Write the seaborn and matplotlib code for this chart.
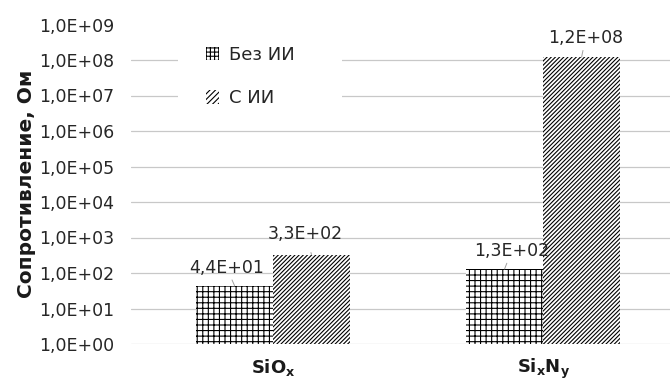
import matplotlib
matplotlib.use("Agg")
import matplotlib.pyplot as plt
from matplotlib.patches import Patch, Rectangle
import seaborn as sns
import pandas as pd

# Resistance of the films with and without ion implantation
categories = ["SiOx", "SixNy"]
category_labels = [r"$\mathbf{SiO}_\mathbf{x}$", r"$\mathbf{Si}_\mathbf{x}\mathbf{N}_\mathbf{y}$"]
series = ["Без ИИ", "С ИИ"]
values_no_ii = [44, 130]
values_ii = [330, 1.2e8]
ytick_values = [1e0, 1e1, 1e2, 1e3, 1e4, 1e5, 1e6, 1e7, 1e8, 1e9]

df = pd.DataFrame({
    "category": categories * 2,
    "series": [series[0]] * 2 + [series[1]] * 2,
    "value": values_no_ii + values_ii,
})

sns.set_theme(style="white")
plt.rcParams["font.family"] = ["DejaVu Sans"]
plt.rcParams["hatch.linewidth"] = 0.8

fig = plt.figure(figsize=(6.7, 3.83), dpi=100)
ax = fig.add_axes([131 / 670, 39 / 383, 539 / 670, 319.5 / 383])
ax.set_yscale("log")

sns.barplot(data=df, x="category", y="value", hue="series", order=categories,
            hue_order=series, width=0.57, palette=["white", "white"],
            edgecolor="black", linewidth=0, ax=ax, legend=False)

hatches = ["+++", "////////"]
for container, hatch in zip(ax.containers, hatches):
    for bar in container:
        bar.set_hatch(hatch)
        bar.set_facecolor("white")
        bar.set_edgecolor("black")
        bar.set_linewidth(0)

ax.set_ylim(1, 1e9)
ax.set_xlim(-0.526, 1.47)
ax.set_yticks(ytick_values)
ax.set_yticklabels([f"{v:.1E}".replace(".", ",") for v in ytick_values])
ax.yaxis.set_minor_locator(matplotlib.ticker.NullLocator())
ax.set_xticks(range(len(categories)))
ax.set_xticklabels(category_labels, fontsize=13, color="#1a1a1a")
ax.tick_params(axis="y", labelsize=12.5, colors="#262626", length=0, pad=12)
ax.tick_params(axis="x", length=0, pad=9)

for v in ytick_values[:-1]:
    ax.axhline(v, color="#c8c8c8", lw=0.9, zorder=0)

for s in ax.spines.values():
    s.set_visible(False)

ax.set_xlabel("")
ax.set_ylabel("Сопротивление, Ом", fontsize=14.5, fontweight="bold", color="#1a1a1a", labelpad=2)

# Value labels with short leader lines
offsets = [(-8, 18), (7, 18), (-6, 21), (4, 19)]
k = 0
for container in ax.containers:
    for bar in container:
        val = bar.get_height()
        xc = bar.get_x() + bar.get_width() / 2
        dx, dy = offsets[k]
        k += 1
        ax.annotate(f"{val:.1E}".replace(".", ","), xy=(xc, val), xytext=(dx, dy),
                    textcoords="offset pixels",
                    ha="center", va="center", fontsize=12.5, color="#262626",
                    arrowprops=dict(arrowstyle="-", color="#a0a0a0", lw=0.7,
                                    shrinkA=5, shrinkB=0))

# White panel behind the legend
ax.add_patch(Rectangle((0.0872, 0.70), 0.3043, 0.30, transform=ax.transAxes,
                       facecolor="white", edgecolor="none", zorder=1))

handles = [Patch(facecolor="white", edgecolor="black", hatch=h, linewidth=0)
           for h in ["++++", "//////"]]
leg = ax.legend(handles, series, loc="upper left", bbox_to_anchor=(0.125, 0.955),
                frameon=False, fontsize=13, handlelength=0.75, handleheight=0.75,
                handletextpad=0.55, labelspacing=1.4, borderpad=0.4, borderaxespad=0)
for t in leg.get_texts():
    t.set_color("#262626")

fig.savefig("out.png", dpi=100)
